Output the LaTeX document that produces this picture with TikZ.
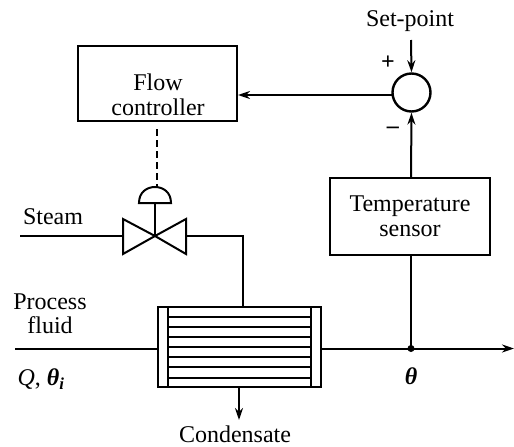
\documentclass[tikz,border=0pt]{standalone}
\usepackage{fontspec}
\setmainfont{Liberation Serif}
\usetikzlibrary{arrows.meta}
\tikzset{
  line/.style={line width=2pt},
  flow/.style={line, -{Stealth[length=12pt,width=8pt]}},
  blockbox/.style={draw, line width=2pt, inner sep=0pt},
  lbl/.style={inner sep=0pt, align=center, font=\fontsize{24}{24.5}\selectfont}
}
\begin{document}
\begin{tikzpicture}[x=1pt,y=-1pt]
  \useasboundingbox (0,0) rectangle (514,447);

  % blocks
  \node[blockbox, minimum width=159pt, minimum height=75pt] (flowctrl) at (157.5,83.5) {};
  \node[lbl] (flowtxt) at (158,95) {Flow\\controller};
  \node[blockbox, lbl, draw, line width=2pt, minimum width=160pt, minimum height=77pt] (sensor) at (410,216.5) {Temperature\\sensor};
  \node[draw, circle, line width=2.4pt, minimum size=38pt, inner sep=0pt] (sum) at (411.5,92.5) {};
  \node[blockbox, minimum width=163pt, minimum height=80pt] (hx) at (239.5,347) {};

  % tubes
  \draw[line] (168,307) -- (168,387) (311,307) -- (311,387);
  \foreach \y in {317,327,337,347,357,367,378}{
    \draw[line] (168,\y) -- (311,\y);
  }

  % valve
  \coordinate (vc) at (155,236);
  \draw[line] (vc) -- (123,219) -- (123,254) -- cycle;
  \draw[line] (vc) -- (186,219) -- (186,254) -- cycle;
  \draw[line] (vc) -- (155,203);
  \draw[line] (139,203) .. controls (139,192) and (147,187) .. (155,187) .. controls (163,187) and (171,192) .. (171,203) -- cycle;

  % labels
  \node[lbl] (setp) at (410,21) {Set-point};
  \node[lbl] (plus) at (388,63) {\textbf{+}};
  \node[lbl] (minus) at (393,130) {\textbf{--}};
  \node[lbl] (steam) at (53,217) {Steam};
  \node[lbl] (proc) at (50,314) {Process\\fluid};
  \node[lbl] (qth) at (41,379) {\textit{Q}, \textbf{\textit{θ}\textsubscript{\textit{i}}}};
  \node[lbl] (thet) at (411,376) {\textbf{\textit{θ}}};
  \node[lbl] (cond) at (235,434) {Condensate};

  % free ends
  \coordinate (sp) at (411,40);
  \coordinate (st) at (20,235.5);
  \coordinate (pin) at (15,348.5);
  \coordinate (pout) at (514,348.5);
  \coordinate (cn) at (239,420);
  \coordinate (tap) at (411,348.5);
  \coordinate (vr) at (186,235.5);
  \coordinate (vl) at (123,235.5);
  \coordinate (hxt) at (243,307);
  \coordinate (fb) at (392.5,95);
  \coordinate (valvetop) at (157,187);
  \coordinate (ctrlout) at (157,129);

  % connectors
  \draw[flow] (sp) -- (sum.north);
  \draw[flow] (sensor.north -| tap) -- (sum.south);
  \draw[flow] (fb) -- (flowctrl.east |- fb);
  \draw[line, dash pattern=on 7pt off 4pt] (ctrlout) -- (valvetop);
  \draw[line] (st) -- (vl);
  \draw[line] (vr) -- (243,235.5) -- (hxt);
  \draw[line] (pin) -- (hx.west |- pin);
  \draw[flow] (hx.east |- pout) -- (pout);
  \draw[flow] (239,387) -- (cn);
  \draw[line] (tap) -- (sensor.south -| tap);
  \fill (tap) circle (3.5pt);
\end{tikzpicture}
\end{document}
